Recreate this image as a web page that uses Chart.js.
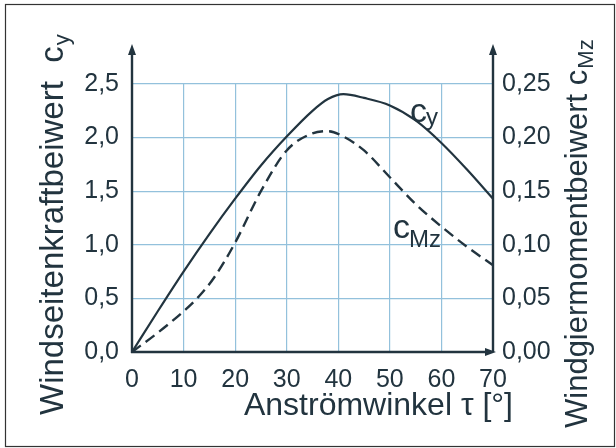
<!DOCTYPE html>
<html>
<head>
<meta charset="utf-8">
<script src="https://cdn.jsdelivr.net/npm/chart.js@4.4.1/dist/chart.umd.min.js"></script>
<style>
  html, body { margin: 0; padding: 0; background: #fff; }
  #wrap { width: 616px; height: 448px; }
</style>
</head>
<body>
<div id="wrap"><canvas id="windChart" width="616" height="448"></canvas></div>
<script>
// DATEN
const cyAngles = [0, 5, 10, 15, 20, 25, 30, 35, 38, 41, 45, 50, 55, 60, 65, 70];
const cyValues = [0, 0.38, 0.75, 1.1, 1.43, 1.74, 2.01, 2.25, 2.36, 2.405, 2.37, 2.3, 2.16, 1.95, 1.7, 1.43];

const cmzAngles = [0, 5, 10, 13, 16, 20, 25, 30, 35, 38, 41, 45, 50, 55, 60, 65, 70];
const cmzValues = [0, 0.018, 0.038, 0.052, 0.07, 0.102, 0.15, 0.188, 0.204, 0.206, 0.201, 0.188, 0.163, 0.138, 0.117, 0.098, 0.081];

const xTicks = [0, 10, 20, 30, 40, 50, 60, 70];
const cyTicks = [0, 0.5, 1, 1.5, 2, 2.5];
const cmzTicks = [0, 0.05, 0.1, 0.15, 0.2, 0.25];

const ink = "#22343f";
const gridBlue = "#93c1dc";
const font = "'Liberation Sans', Arial, sans-serif";

function toPoints(xs, ys) {
  return xs.map((x, i) => ({ x: x, y: ys[i] }));
}

// ACHSEN, PFEILE, TITEL
const decor = {
  id: "decor",
  afterDraw(chart) {
    const ctx = chart.ctx;
    const a = chart.chartArea;
    const sx = chart.scales.x;
    const sy = chart.scales.y;
    const sm = chart.scales.y2;
    ctx.save();

    // rahmen
    ctx.strokeStyle = "#333";
    ctx.lineWidth = 1.2;
    ctx.strokeRect(5.5, 4.5, 609, 442);

    ctx.strokeStyle = ink;
    ctx.fillStyle = ink;
    ctx.lineWidth = 2.4;
    const top = a.top - 40;

    ctx.beginPath();
    ctx.moveTo(a.left, a.bottom + 1);
    ctx.lineTo(a.left, top + 6);
    ctx.moveTo(a.right, a.bottom);
    ctx.lineTo(a.right, top + 6);
    ctx.moveTo(a.left - 1, a.bottom);
    ctx.lineTo(a.right - 4, a.bottom);
    ctx.stroke();

    function arrowUp(x) {
      ctx.beginPath();
      ctx.moveTo(x, top);
      ctx.lineTo(x - 4, top + 11);
      ctx.lineTo(x + 4, top + 11);
      ctx.closePath();
      ctx.fill();
    }
    arrowUp(a.left);
    arrowUp(a.right);
    ctx.beginPath();
    ctx.moveTo(a.right + 3, a.bottom);
    ctx.lineTo(a.right - 8, a.bottom - 4);
    ctx.lineTo(a.right - 8, a.bottom + 4);
    ctx.closePath();
    ctx.fill();

    // x titel
    ctx.textBaseline = "alphabetic";
    ctx.textAlign = "right";
    ctx.font = "32px " + font;
    ctx.fillText("Anströmwinkel τ [°]", a.right + 20, a.bottom + 63);

    // linker titel
    ctx.save();
    ctx.translate(a.left - 69, a.bottom + 63);
    ctx.rotate(-Math.PI / 2);
    ctx.textAlign = "left";
    ctx.font = "33px " + font;
    let t = "Windseitenkraftbeiwert  c";
    ctx.fillText(t, 0, 0);
    let w = ctx.measureText(t).width;
    ctx.font = "22px " + font;
    ctx.fillText("y", w + 1, 6);
    ctx.restore();

    // rechter titel
    ctx.save();
    ctx.translate(a.right + 94, a.bottom + 76);
    ctx.rotate(-Math.PI / 2);
    ctx.textAlign = "left";
    ctx.font = "31px " + font;
    t = "Windgiermomentbeiwert c";
    ctx.fillText(t, 0, 0);
    w = ctx.measureText(t).width;
    ctx.font = "22px " + font;
    ctx.fillText("Mz", w + 1, 6);
    ctx.restore();

    // kurvenbeschriftung
    ctx.textAlign = "left";
    let px = sx.getPixelForValue(53.9);
    let py = sy.getPixelForValue(2.145);
    ctx.font = "34px " + font;
    ctx.fillText("c", px, py);
    w = ctx.measureText("c").width;
    ctx.font = "24px " + font;
    ctx.fillText("y", px + w - 1, py + 3);

    px = sx.getPixelForValue(50.6);
    py = sm.getPixelForValue(0.1063);
    ctx.font = "34px " + font;
    ctx.fillText("c", px, py);
    w = ctx.measureText("c").width;
    ctx.font = "24px " + font;
    ctx.fillText("Mz", px + w - 1, py + 9);

    ctx.restore();
  },
};

const ctx = document.getElementById("windChart").getContext("2d");
new Chart(ctx, {
  type: "line",
  data: {
    datasets: [
      {
        label: "cy",
        data: toPoints(cyAngles, cyValues),
        yAxisID: "y",
        borderColor: ink,
        borderWidth: 2.2,
        pointRadius: 0,
        fill: false,
        cubicInterpolationMode: "monotone",
      },
      {
        label: "cMz",
        data: toPoints(cmzAngles, cmzValues),
        yAxisID: "y2",
        borderColor: ink,
        borderWidth: 2.4,
        borderDash: [11, 6],
        pointRadius: 0,
        fill: false,
        cubicInterpolationMode: "monotone",
      },
    ],
  },
  options: {
    responsive: false,
    animation: false,
    devicePixelRatio: 1,
    layout: { padding: { top: 84, left: 0, right: 0, bottom: 0 } },
    plugins: { legend: { display: false }, tooltip: { enabled: false } },
    scales: {
      x: {
        type: "linear",
        min: 0,
        max: 70,
        afterFit: (s) => { s.height = 96; },
        afterBuildTicks: (s) => { s.ticks = xTicks.map((v) => ({ value: v })); },
        grid: { color: gridBlue, lineWidth: 1.2, drawTicks: false },
        border: { display: false },
        ticks: { padding: 13, color: ink, font: { family: font, size: 25 }, maxRotation: 0 },
      },
      y: {
        position: "left",
        min: 0,
        max: 2.5,
        afterFit: (s) => { s.width = 132; },
        afterBuildTicks: (s) => { s.ticks = cyTicks.map((v) => ({ value: v })); },
        grid: { color: gridBlue, lineWidth: 1.2, drawTicks: false },
        border: { display: false },
        ticks: {
          padding: 13,
          color: ink,
          font: { family: font, size: 25 },
          callback: (v) => v.toFixed(1).replace(".", ","),
        },
      },
      y2: {
        position: "right",
        min: 0,
        max: 0.25,
        afterFit: (s) => { s.width = 123; },
        afterBuildTicks: (s) => { s.ticks = cmzTicks.map((v) => ({ value: v })); },
        grid: { display: false, drawTicks: false },
        border: { display: false },
        ticks: {
          padding: 9,
          color: ink,
          font: { family: font, size: 25 },
          callback: (v) => v.toFixed(2).replace(".", ","),
        },
      },
    },
  },
  plugins: [decor],
});
</script>
</body>
</html>
